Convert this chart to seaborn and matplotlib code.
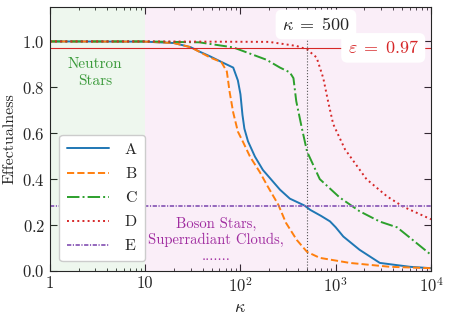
import numpy as np
import pandas as pd
import matplotlib
matplotlib.use("Agg")
import matplotlib.pyplot as plt
import seaborn as sns

# --- data ---
kappa_A = [1, 10, 20, 30, 37, 48, 65, 84, 94, 100, 105, 110, 120, 142, 172, 260, 330,
           470, 540, 700, 870, 1000, 1200, 1780, 2900, 6000, 10000]
eff_A = [1.0, 0.999, 0.993, 0.975, 0.956, 0.935, 0.908, 0.886, 0.83, 0.77, 0.68, 0.62,
         0.565, 0.498, 0.44, 0.354, 0.315, 0.285, 0.266, 0.24, 0.216, 0.19, 0.15, 0.092,
         0.035, 0.018, 0.012]

kappa_B = [1, 10, 20, 30, 48, 63, 72, 77, 84, 94, 107, 126, 160, 194, 250, 300, 390,
           500, 680, 1400, 3700, 10000]
eff_B = [1.0, 0.999, 0.993, 0.975, 0.93, 0.91, 0.869, 0.78, 0.69, 0.607, 0.56, 0.498,
         0.43, 0.367, 0.288, 0.21, 0.135, 0.083, 0.057, 0.035, 0.018, 0.012]

kappa_C = [1, 10, 37, 84, 188, 260, 330, 360, 385, 440, 500, 680, 1100, 1780, 2900,
           4400, 6000, 10000]
eff_C = [1.0, 1.0, 0.996, 0.974, 0.92, 0.886, 0.865, 0.84, 0.74, 0.624, 0.52, 0.40,
         0.32, 0.26, 0.215, 0.19, 0.145, 0.07]

kappa_D = [1, 10, 200, 390, 500, 630, 740, 830, 940, 1250, 2100, 3450, 5100, 10000]
eff_D = [1.0, 1.0, 0.998, 0.98, 0.965, 0.93, 0.84, 0.74, 0.64, 0.53, 0.40, 0.325,
         0.28, 0.225]

kappa_E = [1, 10000]
eff_E = [0.285, 0.285]

series = {
    "A": (kappa_A, eff_A, "#1f77b4", "-"),
    "B": (kappa_B, eff_B, "#ff7f0e", "--"),
    "C": (kappa_C, eff_C, "#2ca02c", "-."),
    "D": (kappa_D, eff_D, "#d62728", ":"),
    "E": (kappa_E, eff_E, "#9467bd", (0, (2.2, 0.8, 0.6, 0.8))),
}

sns.set_style("ticks")
plt.rcParams["font.family"] = ["cmr10", "DejaVu Serif"]
plt.rcParams["mathtext.fontset"] = "cm"
plt.rcParams["axes.formatter.use_mathtext"] = True
plt.rcParams["font.size"] = 11

fig = plt.figure(figsize=(4.49, 3.18), dpi=100)
ax = fig.add_axes([0.111, 0.148, 0.849, 0.830])

# shaded regions
ax.axvspan(1, 10, color="#2ca02c", alpha=0.08, lw=0)
ax.axvspan(10, 1e4, color="#cc44bb", alpha=0.09, lw=0)

for name, (k, e, c, ls) in series.items():
    df = pd.DataFrame({"kappa": k, "eff": e})
    sns.lineplot(data=df, x="kappa", y="eff", ax=ax, color=c, label=name,
                 lw=1.4, linestyle=ls)

ax.axhline(0.97, color="#d62728", lw=0.8)
ax.axvline(500, color="#555555", lw=0.8, ls=":")

ax.text(620, 1.074, r"$\kappa\;=\;500$", ha="center", va="center", fontsize=13,
        bbox=dict(boxstyle="round,pad=0.35", fc="white", ec="none"))
ax.text(3150, 0.972, r"$\varepsilon\;=\;0.97$", ha="center", va="center", fontsize=13,
        color="#d62728", bbox=dict(boxstyle="round,pad=0.35", fc="white", ec="none"))

ax.text(3.0, 0.865, "Neutron\nStars", ha="center", va="center", color="#3a9a3a",
        fontsize=11, linespacing=1.3)
ax.text(55, 0.135, "Boson Stars,\nSuperradiant Clouds,\n.......", ha="center",
        va="center", color="#a02ca0", fontsize=10.5, linespacing=1.2)

ax.set_xscale("log")
ax.set_xlim(1, 1e4)
ax.set_ylim(0, 1.15)
ax.set_xticks([1, 10, 100, 1000, 10000])
ax.set_xticklabels(["1", "10", r"$10^2$", r"$10^3$", r"$10^4$"])
ax.set_yticks([0.0, 0.2, 0.4, 0.6, 0.8, 1.0])
ax.set_xlabel(r"$\kappa$", fontsize=13)
ax.set_ylabel("Effectualness", fontsize=11.5)
ax.tick_params(which="both", direction="in", top=True, right=True, labelsize=12)
ax.tick_params(which="major", length=5)
ax.tick_params(which="minor", length=2.5)

ax.legend(loc="lower left", fontsize=11.5, framealpha=1, handlelength=2.6,
          labelspacing=0.62, borderpad=0.5, borderaxespad=0.6, handletextpad=1.0)

fig.savefig("out.png", dpi=100)
